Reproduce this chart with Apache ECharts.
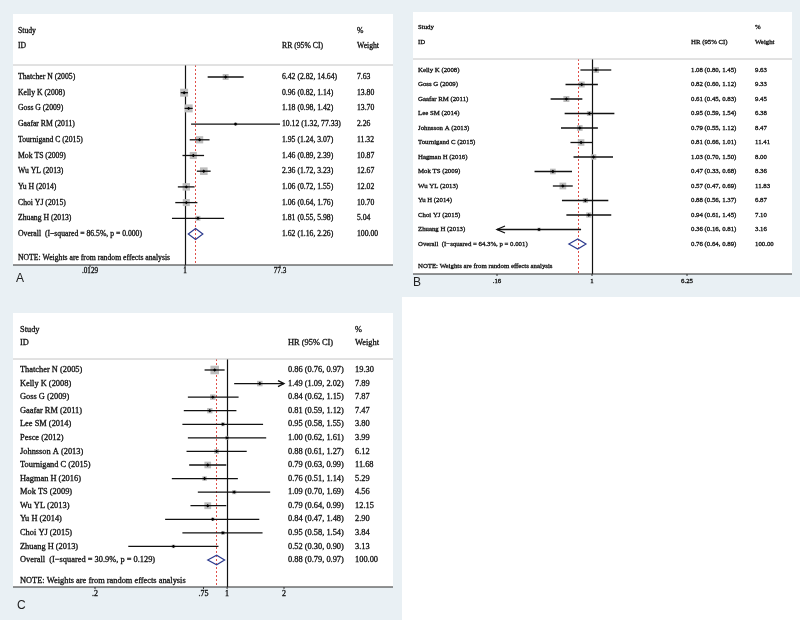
<!DOCTYPE html>
<html><head><meta charset="utf-8">
<script src="https://cdn.jsdelivr.net/npm/echarts@6/dist/echarts.min.js"></script>
<style>html,body{margin:0;padding:0;background:#e9f0f4}#c{width:800px;height:620px}</style>
</head><body><div id="c"></div>
<script>
// ---------- Panel A (RR) ----------
const studiesA = ['Thatcher N (2005)','Kelly K (2008)','Goss G (2009)','Gaafar RM (2011)','Tournigand C (2015)','Mok TS (2009)','Wu YL (2013)','Yu H (2014)','Choi YJ (2015)','Zhuang H (2013)'];
const estA    = [6.42, 0.96, 1.18, 10.12, 1.95, 1.46, 2.36, 1.06, 1.06, 1.81];
const lowA    = [2.82, 0.82, 0.98, 1.32, 1.24, 0.89, 1.72, 0.72, 0.64, 0.55];
const highA   = [14.64, 1.14, 1.42, 77.33, 3.07, 2.39, 3.23, 1.55, 1.76, 5.98];
const weightA = [7.63, 13.80, 13.70, 2.26, 11.32, 10.87, 12.67, 12.02, 10.70, 5.04];
const overallA = [1.62, 1.16, 2.26];
const overallLabelA = 'Overall  (I\u2212squared = 86.5%, p = 0.000)';
const rangeA = [0.0129, 77.33];
const tickValuesA = [0.0129, 1, 77.3];
const tickLabelsA = ['.0129', '1', '77.3'];

// ---------- Panel B (HR) ----------
const studiesB = ['Kelly K (2008)','Goss G (2009)','Gaafar RM (2011)','Lee SM (2014)','Johnsson A (2013)','Tournigand C (2015)','Hagman H (2016)','Mok TS (2009)','Wu YL (2013)','Yu H (2014)','Choi YJ (2015)','Zhuang H (2013)'];
const estB    = [1.08, 0.82, 0.61, 0.95, 0.79, 0.81, 1.03, 0.47, 0.57, 0.88, 0.94, 0.36];
const lowB    = [0.80, 0.60, 0.45, 0.59, 0.55, 0.66, 0.70, 0.33, 0.47, 0.56, 0.61, 0.159];
const highB   = [1.45, 1.12, 0.83, 1.54, 1.12, 1.01, 1.50, 0.68, 0.69, 1.37, 1.45, 0.81];
const weightB = [9.63, 9.33, 9.45, 6.38, 8.47, 11.41, 8.00, 8.36, 11.83, 6.87, 7.10, 3.16];
const overallB = [0.76, 0.64, 0.89];
const overallLabelB = 'Overall  (I\u2212squared = 64.3%, p = 0.001)';
const rangeB = [0.16, 6.25];
const tickValuesB = [0.16, 1, 6.25];
const tickLabelsB = ['.16', '1', '6.25'];

// ---------- Panel C (HR) ----------
const studiesC = ['Thatcher N (2005)','Kelly K (2008)','Goss G (2009)','Gaafar RM (2011)','Lee SM (2014)','Pesce (2012)','Johnsson A (2013)','Tournigand C (2015)','Hagman H (2016)','Mok TS (2009)','Wu YL (2013)','Yu H (2014)','Choi YJ (2015)','Zhuang H (2013)'];
const estC    = [0.86, 1.49, 0.84, 0.81, 0.95, 1.00, 0.88, 0.79, 0.76, 1.09, 0.79, 0.84, 0.95, 0.52];
const lowC    = [0.76, 1.09, 0.62, 0.59, 0.58, 0.62, 0.61, 0.63, 0.51, 0.70, 0.64, 0.47, 0.58, 0.30];
const highC   = [0.97, 2.02, 1.15, 1.12, 1.55, 1.61, 1.27, 0.99, 1.14, 1.69, 0.99, 1.48, 1.54, 0.90];
const weightC = [19.30, 7.89, 7.87, 7.47, 3.80, 3.99, 6.12, 11.68, 5.29, 4.56, 12.15, 2.90, 3.84, 3.13];
const overallC = [0.88, 0.79, 0.97];
const overallLabelC = 'Overall  (I\u2212squared = 30.9%, p = 0.129)';
const rangeC = [0.2, 2];
const tickValuesC = [0.2, 0.75, 1, 2];
const tickLabelsC = ['.2', '.75', '1', '2'];

const noteText = 'NOTE: Weights are from random effects analysis';

// ---------- layout (pixels) ----------
const panels = [
  { letter:'A', names:studiesA, est:estA, lo:lowA, hi:highA, w:weightA, overall:overallA, overallLabel:overallLabelA,
    range:rangeA, ticks:tickValuesA, tickLabels:tickLabelsA, measure:'RR (95% CI)',
    L:{ box:[13,14,380,251], grid:{left:90,top:65,width:190,height:200}, yr:[-0.764,11.975],
        nameX:18, ciX:282, wX:357, hdrY:[31,46], font:7.7, tickFont:7.2, sq:2.15, dia:5.5, ah:7, aw:3.5,
        tickDy:6, letterXY:[16,279], noteY:258 } },
  { letter:'B', names:studiesB, est:estB, lo:lowB, hi:highB, w:weightB, overall:overallB, overallLabel:overallLabelB,
    range:rangeB, ticks:tickValuesB, tickLabels:tickLabelsB, measure:'HR (95% CI)',
    L:{ box:[413,12,379,262], grid:{left:497,top:59,width:190,height:215}, yr:[-0.759,14.07],
        nameX:418, ciX:691, wX:755, hdrY:[27,42], font:6.8, tickFont:6.8, sq:1.95, dia:5, ah:8, aw:3.5,
        tickDy:7, letterXY:[413,283], noteY:266 } },
  { letter:'C', names:studiesC, est:estC, lo:lowC, hi:highC, w:weightC, overall:overallC, overallLabel:overallLabelC,
    range:rangeC, ticks:tickValuesC, tickLabels:tickLabelsC, measure:'HR (95% CI)',
    L:{ box:[13,313,380,274], grid:{left:95,top:359,width:189,height:228}, yr:[-0.81,15.99],
        nameX:20, ciX:288, wX:355, hdrY:[330,343], font:8.4, tickFont:8, sq:1.95, dia:4.7, ah:6, aw:3,
        tickDy:7, letterXY:[17,606], noteY:581 } }
];

const SERIF = '"Liberation Serif","Times New Roman",serif';
const TXT = '#111111';
const TSTROKE = 0.3;
const fmt = v => v.toFixed(2);

function tx(text, x, y, size, align, extra) {
  return Object.assign({ type:'text', z:20, style:{ text, x, y, font: size + 'px ' + SERIF, fill:TXT, stroke:TXT, lineWidth:TSTROKE,
    textAlign:align||'left', textVerticalAlign:'middle', align:align||'left', verticalAlign:'middle' } }, extra||{});
}

const grids = [], xAxes = [], yAxes = [], series = [], graphics = [];

// white plate in the lower right
graphics.push({ type:'rect', z:0, shape:{x:402,y:297,width:398,height:323}, style:{fill:'#ffffff'} });

panels.forEach((p, gi) => {
  const L = p.L;
  const g = L.grid;
  grids.push({ left:g.left, top:g.top, width:g.width, height:g.height, containLabel:false });
  xAxes.push({ type:'log', logBase:10, gridIndex:gi, min:p.range[0], max:p.range[1],
    axisLine:{show:false}, axisTick:{show:false}, axisLabel:{show:false}, splitLine:{show:false} });
  yAxes.push({ type:'value', gridIndex:gi, inverse:true, min:L.yr[0], max:L.yr[1],
    axisLine:{show:false}, axisTick:{show:false}, axisLabel:{show:false}, splitLine:{show:false} });

  const b = L.box;
  graphics.push({ type:'rect', z:0, shape:{x:b[0],y:b[1],width:b[2],height:b[3]}, style:{fill:'#ffffff'} });
  graphics.push({ type:'line', z:10, shape:{x1:b[0],y1:g.top,x2:b[0]+b[2],y2:g.top}, style:{stroke:'#c4c4c4', lineWidth:1} });
  graphics.push({ type:'line', z:10, shape:{x1:b[0],y1:g.top+g.height,x2:b[0]+b[2],y2:g.top+g.height}, style:{stroke:'#2a2a2a', lineWidth:1.2} });
  graphics.push(tx('Study', L.nameX, L.hdrY[0], L.font));
  graphics.push(tx('ID', L.nameX, L.hdrY[1], L.font));
  graphics.push(tx(p.measure, L.ciX, L.hdrY[1], L.font));
  graphics.push(tx('%', L.wX, L.hdrY[0], L.font));
  graphics.push(tx('Weight', L.wX, L.hdrY[1], L.font));
  graphics.push(tx(noteText, L.nameX, L.noteY, L.font));
  graphics.push({ type:'text', z:20, style:{ text:p.letter, x:L.letterXY[0], y:L.letterXY[1],
    font:'12px "Liberation Sans",Arial,sans-serif', fill:'#222', textAlign:'left', textVerticalAlign:'middle', align:'left', verticalAlign:'middle' } });

  const n = p.names.length;
  const labels = p.names.concat([p.overallLabel]);
  const weights = p.w.concat([100]);
  const data = p.names.map((_, j) => [p.est[j], j, p.lo[j], p.hi[j], p.w[j], 0]);
  data.push([p.overall[0], n, p.overall[1], p.overall[2], 100, 1]);

  series.push({
    type:'custom', xAxisIndex:gi, yAxisIndex:gi, clip:false, silent:true, z:5,
    data,
    renderItem: (params, api) => {
      const idx = params.dataIndex;
      const est = api.value(0), row = api.value(1), lo = api.value(2), hi = api.value(3), w = api.value(4), ov = api.value(5);
      const c = api.coord([est, row]);
      const y = c[1];
      const ch = [];
      if (ov) {
        const xl = api.coord([lo, row])[0], xh = api.coord([hi, row])[0];
        ch.push({ type:'polygon', shape:{points:[[xl,y],[c[0],y-L.dia],[xh,y],[c[0],y+L.dia]]},
          style:{fill:'rgba(0,0,0,0)', stroke:'#2d3b8e', lineWidth:1.2} });
      } else {
        const mn = p.range[0], mx = p.range[1];
        const xl = api.coord([Math.max(lo, mn), row])[0];
        const xh = api.coord([Math.min(hi, mx), row])[0];
        const s = L.sq * Math.sqrt(w);
        ch.push({ type:'rect', shape:{x:c[0]-s/2, y:y-s/2, width:s, height:s}, style:{fill:'#bdbdbd'} });
        ch.push({ type:'line', shape:{x1:xl,y1:y,x2:xh,y2:y}, style:{stroke:'#111', lineWidth:1.3} });
        if (lo < mn) ch.push({ type:'polyline', shape:{points:[[xl+L.ah,y-L.aw],[xl,y],[xl+L.ah,y+L.aw]]}, style:{stroke:'#111', lineWidth:1.3, fill:null} });
        if (hi > mx) ch.push({ type:'polyline', shape:{points:[[xh-L.ah,y-L.aw],[xh,y],[xh-L.ah,y+L.aw]]}, style:{stroke:'#111', lineWidth:1.3, fill:null} });
        const d = 1.7;
        ch.push({ type:'polygon', shape:{points:[[c[0]-d,y],[c[0],y-d],[c[0]+d,y],[c[0],y+d]]}, style:{fill:'#000'} });
      }
      const font = L.font + 'px ' + SERIF;
      const t = (text, x) => ({ type:'text', style:{ text, x, y, font, fill:TXT, stroke:TXT, lineWidth:TSTROKE, textAlign:'left', textVerticalAlign:'middle', align:'left', verticalAlign:'middle' } });
      ch.push(t(labels[idx], L.nameX));
      ch.push(t(fmt(est) + ' (' + fmt(lo) + ', ' + fmt(hi) + ')', L.ciX));
      ch.push(t(weights[idx].toFixed(2), L.wX));
      return { type:'group', children:ch };
    },
    markLine: {
      silent:true, symbol:['none','none'], label:{show:false}, animation:false,
      data:[
        { xAxis:1, lineStyle:{color:'#111', width:1.2, type:'solid'} },
        { xAxis:p.overall[0], lineStyle:{color:'#e0504a', width:1, type:[2,2]} }
      ]
    }
  });

  series.push({
    type:'custom', xAxisIndex:gi, yAxisIndex:gi, clip:false, silent:true, z:6,
    data: p.ticks.map(v => [v, 0]),
    renderItem: (params, api) => {
      const x = api.coord([api.value(0), 0])[0];
      const cs = params.coordSys;
      const yb = cs.y + cs.height;
      return { type:'group', children:[
        { type:'line', shape:{x1:x,y1:yb,x2:x,y2:yb+2}, style:{stroke:'#333', lineWidth:1} },
        { type:'text', style:{ text:p.tickLabels[params.dataIndex], x, y:yb+L.tickDy, font:L.tickFont + 'px ' + SERIF,
          fill:TXT, stroke:TXT, lineWidth:TSTROKE, textAlign:'center', textVerticalAlign:'middle', align:'center', verticalAlign:'middle' } }
      ]};
    }
  });
});

const chart = echarts.init(document.getElementById('c'), null, { renderer:'canvas' });
chart.setOption({
  backgroundColor:'#e9f0f4',
  animation:false,
  grid:grids, xAxis:xAxes, yAxis:yAxes, series,
  graphic:{ elements:graphics }
});
</script>
</body></html>
